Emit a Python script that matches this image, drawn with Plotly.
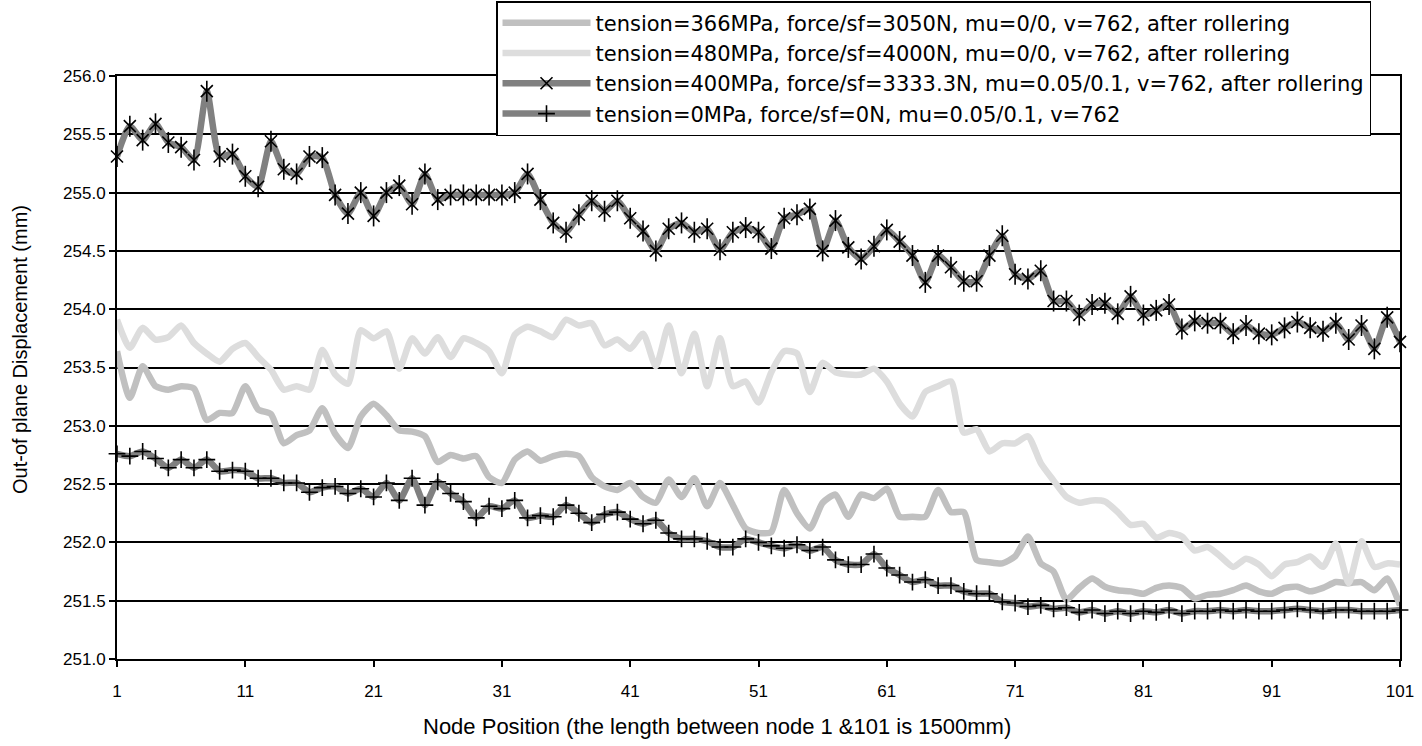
import plotly.graph_objects as go

nodes = list(range(1, 102))

s1_name = "tension=366MPa, force/sf=3050N, mu=0/0, v=762, after rollering"
s1 = [253.64, 253.24, 253.51, 253.34, 253.31, 253.34, 253.32, 253.05, 253.11, 253.11,
      253.34, 253.14, 253.10, 252.85, 252.92, 252.96, 253.15, 252.93, 252.81, 253.08,
      253.19, 253.09, 252.96, 252.95, 252.91, 252.69, 252.75, 252.72, 252.74, 252.56,
      252.51, 252.71, 252.78, 252.70, 252.74, 252.76, 252.74, 252.56, 252.48, 252.45,
      252.51, 252.39, 252.34, 252.54, 252.39, 252.55, 252.31, 252.51, 252.32, 252.12,
      252.08, 252.09, 252.45, 252.25, 252.12, 252.34, 252.41, 252.22, 252.41, 252.38,
      252.46, 252.22, 252.22, 252.22, 252.45, 252.26, 252.26, 251.85, 251.83, 251.82,
      251.88, 252.05, 251.82, 251.75, 251.51, 251.61, 251.69, 251.62, 251.59, 251.58,
      251.56, 251.61, 251.63, 251.61, 251.52, 251.55, 251.56, 251.59, 251.63, 251.58,
      251.56, 251.61, 251.62, 251.58, 251.61, 251.66, 251.65, 251.66, 251.59, 251.69,
      251.46]

s2_name = "tension=480MPa, force/sf=4000N, mu=0/0, v=762, after rollering"
s2 = [253.91, 253.67, 253.84, 253.74, 253.76, 253.86, 253.71, 253.62, 253.55, 253.66,
      253.71, 253.59, 253.48, 253.31, 253.34, 253.31, 253.65, 253.44, 253.36, 253.82,
      253.75, 253.81, 253.49, 253.75, 253.62, 253.76, 253.59, 253.75, 253.71, 253.64,
      253.45, 253.78, 253.85, 253.81, 253.76, 253.91, 253.86, 253.88, 253.69, 253.74,
      253.66, 253.79, 253.51, 253.86, 253.45, 253.79, 253.34, 253.75, 253.34, 253.38,
      253.20, 253.46, 253.64, 253.62, 253.29, 253.54, 253.46, 253.44, 253.44, 253.49,
      253.38, 253.19, 253.08, 253.29, 253.34, 253.38, 252.94, 252.97, 252.78, 252.85,
      252.85, 252.91, 252.68, 252.53, 252.39, 252.34, 252.36, 252.35, 252.26, 252.15,
      252.16, 252.04, 252.08, 252.05, 251.93, 251.96, 251.88, 251.79, 251.86, 251.81,
      251.71, 251.81, 251.83, 251.88, 251.79, 251.99, 251.65, 252.01, 251.79, 251.82,
      251.81]

s3_name = "tension=400MPa, force/sf=3333.3N, mu=0.05/0.1, v=762, after rollering"
s3 = [255.31, 255.57, 255.45, 255.59, 255.43, 255.39, 255.28, 255.87, 255.31, 255.33,
      255.14, 255.05, 255.44, 255.20, 255.16, 255.31, 255.30, 254.98, 254.82, 255.00,
      254.80, 255.00, 255.06, 254.90, 255.16, 254.94, 254.98, 254.98, 254.98, 254.98,
      254.98, 255.00, 255.16, 254.94, 254.74, 254.66, 254.81, 254.93, 254.84, 254.93,
      254.78, 254.67, 254.50, 254.69, 254.74, 254.66, 254.69, 254.51, 254.66, 254.70,
      254.66, 254.52, 254.78, 254.81, 254.86, 254.50, 254.76, 254.53, 254.43, 254.54,
      254.68, 254.58, 254.46, 254.23, 254.46, 254.36, 254.24, 254.24, 254.46, 254.63,
      254.30, 254.26, 254.33, 254.07, 254.07, 253.95, 254.04, 254.05, 253.96, 254.11,
      253.95, 253.99, 254.04, 253.83, 253.90, 253.88, 253.88, 253.79, 253.86, 253.79,
      253.78, 253.84, 253.89, 253.84, 253.81, 253.88, 253.74, 253.86, 253.66, 253.93,
      253.72]

s4_name = "tension=0MPa, force/sf=0N, mu=0.05/0.1, v=762"
s4 = [252.76, 252.74, 252.78, 252.72, 252.64, 252.71, 252.64, 252.71, 252.61, 252.62,
      252.61, 252.55, 252.55, 252.51, 252.51, 252.43, 252.47, 252.48, 252.42, 252.46,
      252.39, 252.51, 252.36, 252.55, 252.32, 252.52, 252.42, 252.35, 252.21, 252.31,
      252.29, 252.36, 252.21, 252.23, 252.22, 252.32, 252.25, 252.17, 252.24, 252.26,
      252.20, 252.16, 252.19, 252.08, 252.03, 252.03, 252.01, 251.96, 251.96, 252.03,
      252.00, 251.97, 251.95, 251.98, 251.93, 251.96, 251.85, 251.81, 251.81, 251.90,
      251.78, 251.72, 251.66, 251.68, 251.63, 251.63, 251.58, 251.56, 251.56, 251.49,
      251.48, 251.45, 251.46, 251.43, 251.44, 251.40, 251.42, 251.39, 251.41, 251.39,
      251.41, 251.40, 251.42, 251.39, 251.41, 251.41, 251.42, 251.41, 251.42, 251.41,
      251.41, 251.42, 251.43, 251.42, 251.41, 251.42, 251.42, 251.41, 251.41, 251.41,
      251.42]

x_ticks = [1, 11, 21, 31, 41, 51, 61, 71, 81, 91, 101]
y_ticks = [251.0, 251.5, 252.0, 252.5, 253.0, 253.5, 254.0, 254.5, 255.0, 255.5, 256.0]
x_title = "Node Position (the length between node 1 &101 is 1500mm)"
y_title = "Out-of plane Displacement (mm)"

FONT = "Liberation Sans, Arial, sans-serif"
LEG_FONT = "DejaVu Sans, Liberation Sans, sans-serif"
TICK_FS = 17
LW = 6.5
spline = dict(shape="spline", smoothing=0.6)

fig = go.Figure()
fig.add_trace(go.Scatter(x=nodes, y=s1, name=s1_name, mode="lines",
                         line=dict(color="#C0C0C0", width=LW, **spline), cliponaxis=False))
fig.add_trace(go.Scatter(x=nodes, y=s2, name=s2_name, mode="lines",
                         line=dict(color="#DDDDDD", width=LW, **spline), cliponaxis=False))
fig.add_trace(go.Scatter(x=nodes, y=s3, name=s3_name, mode="lines+markers",
                         line=dict(color="#808080", width=LW, **spline),
                         marker=dict(symbol="x-thin-open", size=12, color="black",
                                     line=dict(color="black", width=1.6)),
                         cliponaxis=False))
fig.add_trace(go.Scatter(x=nodes, y=s3, name=s3_name, mode="markers", showlegend=False,
                         marker=dict(symbol="line-ns-open", size=15, color="black",
                                     line=dict(color="black", width=1.6)),
                         cliponaxis=False, hoverinfo="skip"))
fig.add_trace(go.Scatter(x=nodes, y=s4, name=s4_name, mode="lines+markers",
                         line=dict(color="#808080", width=LW, **spline),
                         marker=dict(symbol="cross-thin-open", size=12, color="black",
                                     line=dict(color="black", width=1.6)),
                         cliponaxis=False))

fig.update_layout(
    width=1422, height=746,
    margin=dict(l=117, r=22, t=76, b=87, autoexpand=False),
    paper_bgcolor="white", plot_bgcolor="white",
    font=dict(family=FONT, size=TICK_FS, color="black"),
    showlegend=True,
    legend=dict(x=0.9774, xanchor="right", y=1.1286, yanchor="top",
                bgcolor="white", bordercolor="black", borderwidth=1.5,
                font=dict(family=LEG_FONT, size=21, color="black"),
                tracegroupgap=0, itemwidth=88),
    xaxis=dict(range=[1, 101], tickvals=x_ticks, ticktext=[str(v) for v in x_ticks],
               showgrid=False, zeroline=False, showline=True, linecolor="black", linewidth=2,
               mirror=True, ticks="outside", ticklen=6, tickcolor="black", tickwidth=1.5,
               tickfont=dict(family=FONT, size=TICK_FS), automargin=False,
               ticklabelstandoff=10),
    yaxis=dict(range=[251, 256], tickvals=y_ticks, tickformat=".1f",
               showgrid=True, gridcolor="black", gridwidth=2, zeroline=False,
               showline=True, linecolor="black", linewidth=2, mirror=True,
               ticks="outside", ticklen=6, tickcolor="black", tickwidth=1.5,
               tickfont=dict(family=FONT, size=TICK_FS), automargin=False),
    annotations=[
        dict(text=x_title, xref="paper", yref="paper", x=0.4677, y=-0.1166,
             xanchor="center", yanchor="middle", showarrow=False,
             font=dict(family=FONT, size=22, color="black")),
        dict(text=y_title, xref="paper", yref="paper", x=-0.0756, y=0.53,
             xanchor="center", yanchor="middle", showarrow=False, textangle=-90,
             font=dict(family=FONT, size=20, color="black")),
    ],
)

fig.write_html("out.html", config={"displayModeBar": False},
               post_script="document.body.style.margin='0';")
